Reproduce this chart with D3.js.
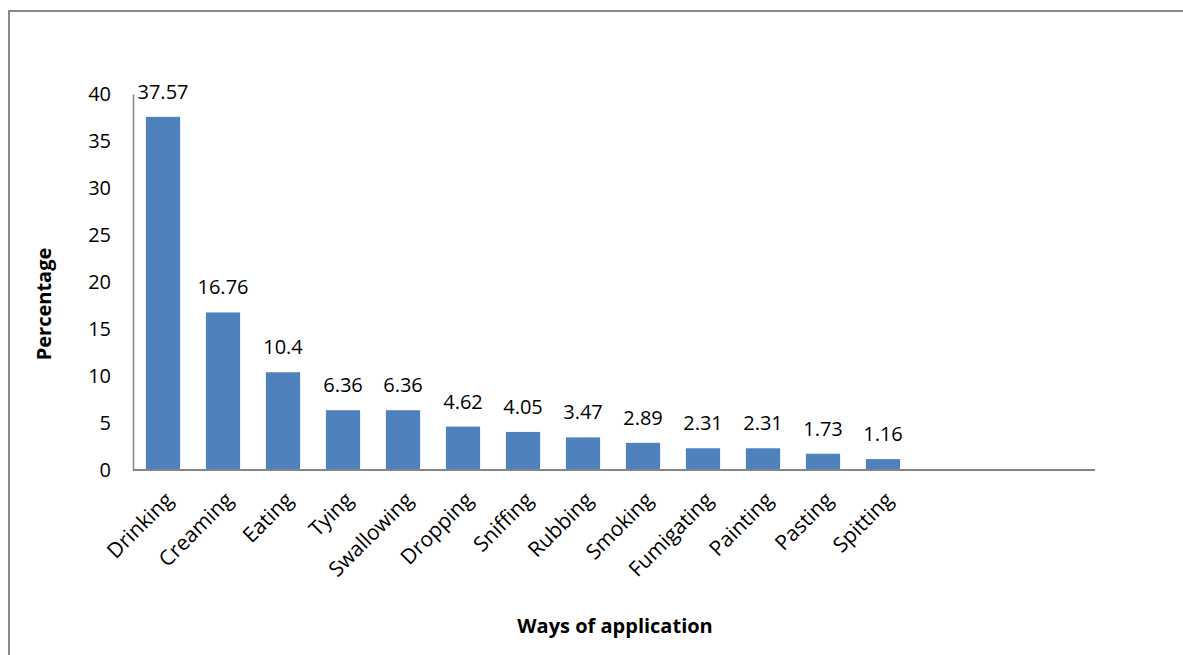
<html>
<head>
  <style>
    body { margin: 0; background: #fff; font-family: 'Open Sans', sans-serif; }
    svg text { fill: #000; }
  </style>
  <script src="https://d3js.org/d3.v7.min.js"></script>
</head>
<body>
  <div id="chart"></div>
  <script>
    // ways of application and their share (%)
    const categories = ['Drinking', 'Creaming', 'Eating', 'Tying', 'Swallowing', 'Dropping',
      'Sniffing', 'Rubbing', 'Smoking', 'Fumigating', 'Painting', 'Pasting', 'Spitting'];
    const values = [37.57, 16.76, 10.4, 6.36, 6.36, 4.62, 4.05, 3.47, 2.89, 2.31, 2.31, 1.73, 1.16];
    const yTicks = [0, 5, 10, 15, 20, 25, 30, 35, 40];
    const slotCount = 16; // the axis leaves room for three empty slots on the right

    const width = 1183, height = 655;
    const margin = { left: 133, top: 94, right: 88, bottom: 185 };

    const svg = d3.select("#chart").append("svg")
      .attr("width", width)
      .attr("height", height);

    // outer frame (runs off the right and bottom edges)
    svg.append("rect")
      .attr("x", 9).attr("y", 11)
      .attr("width", width + 20).attr("height", height + 20)
      .attr("fill", "none")
      .attr("stroke", "#898989")
      .attr("stroke-width", 2);

    const x = d3.scaleBand()
      .domain(d3.range(slotCount))
      .range([margin.left, margin.left + 60 * slotCount])
      .paddingInner(0.43)
      .paddingOuter(0.215);

    const y = d3.scaleLinear()
      .domain([0, 40])
      .range([height - margin.bottom, margin.top]);

    // bars
    svg.selectAll("rect.bar")
      .data(values)
      .enter()
      .append("rect")
      .attr("class", "bar")
      .attr("x", (d, i) => x(i))
      .attr("y", d => y(d))
      .attr("width", x.bandwidth())
      .attr("height", d => y(0) - y(d))
      .attr("fill", "#4f81bd");

    // value labels
    svg.selectAll("text.val")
      .data(values)
      .enter()
      .append("text")
      .attr("class", "val")
      .attr("x", (d, i) => x(i) + x.bandwidth() / 2)
      .attr("y", d => y(d) - 18)
      .attr("text-anchor", "middle")
      .style("font-size", "20px")
      .text(d => d);

    // y axis
    const yAxis = svg.append("g")
      .attr("transform", `translate(${margin.left},0)`)
      .call(d3.axisLeft(y).tickValues(yTicks).tickSize(0).tickPadding(22));
    yAxis.select(".domain").attr("stroke", "#868686").attr("stroke-width", 1.5);
    yAxis.selectAll("text").style("font-size", "20px").style("font-family", "'Open Sans', sans-serif");

    // x axis
    const xAxisG = svg.append("g")
      .attr("transform", `translate(0,${y(0)})`);
    xAxisG.append("line")
      .attr("x1", margin.left).attr("x2", margin.left + 60 * slotCount + 2)
      .attr("stroke", "#868686").attr("stroke-width", 2);

    svg.selectAll("text.cat")
      .data(categories)
      .enter()
      .append("text")
      .attr("class", "cat")
      .attr("transform", (d, i) => `translate(${x(i) + x.bandwidth() / 2 + 6},${y(0) + 26}) rotate(-45)`)
      .attr("text-anchor", "end")
      .attr("dy", "0.35em")
      .style("font-size", "21px")
      .text(d => d);

    // axis titles
    svg.append("text")
      .attr("x", 615).attr("y", 633)
      .attr("text-anchor", "middle")
      .style("font-size", "20px").style("font-weight", "bold")
      .text("Ways of application");

    svg.append("text")
      .attr("transform", "translate(51,304) rotate(-90)")
      .attr("text-anchor", "middle")
      .style("font-size", "20px").style("font-weight", "bold")
      .text("Percentage");
  </script>
</body>
</html>
